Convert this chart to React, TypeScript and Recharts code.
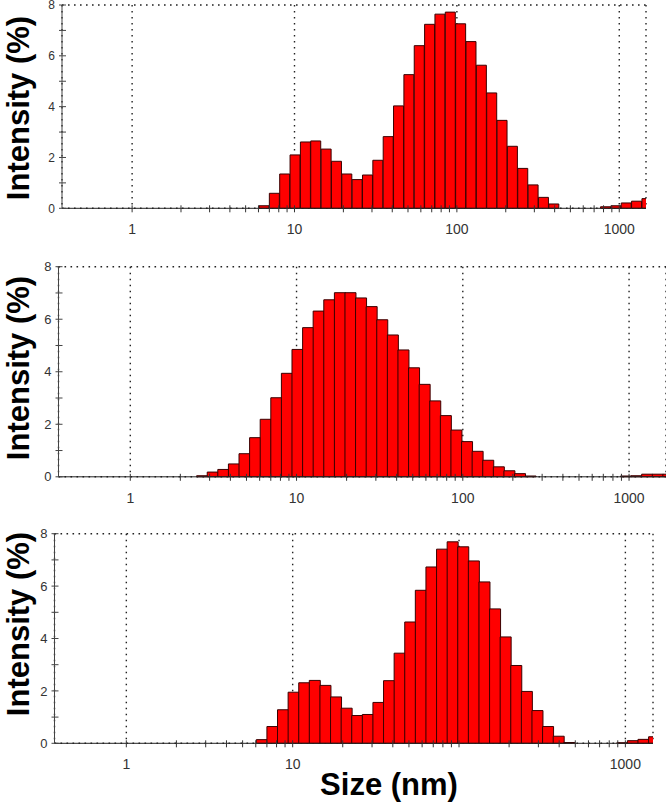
import { Bar, BarChart, CartesianGrid, XAxis, YAxis } from "recharts";

// Malvern size classes (nm), log spaced
const sizes = [
  0.4, 0.4632, 0.5365, 0.6213, 0.7195, 0.8332, 0.9649, 1.117, 1.294, 1.499,
  1.736, 2.01, 2.328, 2.696, 3.122, 3.615, 4.187, 4.849, 5.615, 6.503,
  7.531, 8.721, 10.1, 11.7, 13.54, 15.69, 18.17, 21.04, 24.36, 28.21,
  32.67, 37.84, 43.82, 50.75, 58.77, 68.06, 78.82, 91.28, 105.7, 122.4,
  141.8, 164.2, 190.1, 220.2, 255.0, 295.3, 342.0, 396.1, 458.7, 531.2,
  615.1, 712.4, 825.0, 955.4, 1106, 1281, 1484, 1718,
];

// intensity (%) per size class
const intensityTop = [
  0, 0, 0, 0, 0, 0, 0, 0, 0, 0,
  0, 0, 0, 0, 0, 0, 0, 0, 0, 0.1,
  0.59, 1.35, 2.1, 2.61, 2.65, 2.33, 1.85, 1.35, 1.13, 1.31,
  1.89, 2.82, 4.03, 5.26, 6.4, 7.24, 7.64, 7.72, 7.26, 6.56,
  5.63, 4.54, 3.46, 2.44, 1.57, 0.92, 0.43, 0.17, 0, 0,
  0, 0, 0.06, 0.1, 0.21, 0.28, 0.38, 0.45,
];

const intensityMiddle = [
  0, 0, 0, 0, 0, 0, 0, 0, 0, 0,
  0, 0, 0, 0.04, 0.18, 0.28, 0.49, 0.88, 1.49, 2.19,
  3.01, 3.94, 4.85, 5.68, 6.31, 6.74, 7.01, 7.01, 6.81, 6.48,
  5.98, 5.4, 4.83, 4.15, 3.52, 2.89, 2.33, 1.78, 1.34, 0.97,
  0.63, 0.38, 0.23, 0.12, 0.03, 0, 0, 0, 0, 0,
  0, 0, 0, 0.03, 0.04, 0.1, 0.1, 0.1,
];

const intensityBottom = [
  0, 0, 0, 0, 0, 0, 0, 0, 0, 0,
  0, 0, 0, 0, 0, 0, 0, 0, 0, 0.14,
  0.64, 1.28, 1.95, 2.31, 2.4, 2.21, 1.77, 1.34, 1.06, 1.1,
  1.56, 2.39, 3.44, 4.63, 5.84, 6.73, 7.41, 7.69, 7.5, 6.96,
  6.16, 5.13, 4.06, 2.97, 1.98, 1.25, 0.64, 0.27, 0.03, 0,
  0, 0, 0, 0.02, 0.1, 0.15, 0.25, 0.3,
];

const decades = [1, 10, 100, 1000];
const xTicks = [
  1, 2, 3, 4, 5, 6, 7, 8, 9,
  10, 20, 30, 40, 50, 60, 70, 80, 90,
  100, 200, 300, 400, 500, 600, 700, 800, 900,
  1000,
];
const yTicks = [0, 1, 2, 3, 4, 5, 6, 7, 8];
const yGridTicks = [0, 2, 4, 6, 8];

const FONT = "'Liberation Sans', Arial, sans-serif";

function XTick(props: any) {
  const { x, y, payload, labelSize, labels } = props;
  const v = payload.value;
  return (
    <g>
      <line x1={x} x2={x} y1={y - 3} y2={y + 4} stroke="#333" />
      {labels.includes(v) && (
        <text x={x} y={y + 26} textAnchor="middle" fontSize={labelSize} fill="#333" fontFamily={FONT}>
          {v}
        </text>
      )}
    </g>
  );
}

function YTick(props: any) {
  const { x, y, payload, labelSize } = props;
  const v = payload.value;
  return (
    <g>
      <line x1={x - 3} x2={x + 4} y1={y} y2={y} stroke="#444" />
      {v % 2 === 0 && (
        <text x={x - 7} y={y} dy="0.36em" textAnchor="end" fontSize={labelSize} fill="#333" fontFamily={FONT}>
          {v}
        </text>
      )}
    </g>
  );
}

function Title(props: any) {
  const { tx, ty, text, vertical } = props;
  return (
    <text
      x={tx}
      y={ty}
      textAnchor="middle"
      fontSize={31}
      fontWeight="bold"
      fill="#000"
      fontFamily={FONT}
      transform={vertical ? `rotate(-90, ${tx}, ${ty})` : undefined}
    >
      {text}
    </text>
  );
}

type PanelProps = {
  values: number[];
  top: number;
  height: number;
  plotLeft: number;
  plotRight: number;
  plotTop: number;
  plotBottom: number;
  xMax: number;
  titleY: number;
  tickSize: number;
  xLabels: number[];
  showSize?: boolean;
};

function Panel({ values, top, height, plotLeft, plotRight, plotTop, plotBottom, xMax, titleY, tickSize, xLabels, showSize }: PanelProps) {
  const data = sizes.map((s, i) => ({ size: s, intensity: values[i] }));
  const margin = {
    top: plotTop - top,
    right: 666 - plotRight,
    left: 0,
    bottom: height - (plotBottom - top) - 30,
  };
  const xDomain = [0.37, xMax];
  return (
    <div style={{ position: "absolute", left: 0, top }}>
      <BarChart width={666} height={height} data={data} margin={margin} barCategoryGap={0} barGap={0}>
        <XAxis xAxisId="grid" dataKey="size" type="number" scale="log" domain={xDomain} allowDataOverflow ticks={decades} hide />
        <YAxis yAxisId="grid" type="number" domain={[0, 8]} ticks={yGridTicks} hide />
        <CartesianGrid xAxisId="grid" yAxisId="grid" stroke="#222" strokeDasharray="1.6 4.4" strokeWidth={1.4} />
        <XAxis
          dataKey="size"
          type="number"
          scale="log"
          domain={xDomain}
          allowDataOverflow
          ticks={xTicks}
          interval={0}
          tickSize={0}
          tickMargin={0}
          tickLine={false}
          axisLine={{ stroke: "#222" }}
          height={30}
          tick={<XTick labelSize={14} labels={xLabels} />}
          label={showSize ? <Title tx={389} ty={285} text="Size (nm)" /> : undefined}
        />
        <YAxis
          type="number"
          domain={[0, 8]}
          ticks={yTicks}
          interval={0}
          width={plotLeft}
          tickSize={0}
          tickMargin={0}
          tickLine={false}
          axisLine={{ stroke: "#444" }}
          tick={<YTick labelSize={tickSize} />}
          label={<Title tx={29} ty={titleY} text="Intensity (%)" vertical />}
        />
        <Bar dataKey="intensity" fill="#ff0000" stroke="#3a0000" strokeWidth={1} isAnimationActive={false} />
      </BarChart>
    </div>
  );
}

export default function App() {
  return (
    <div style={{ position: "absolute", left: 0, top: 0, width: 666, height: 804, background: "#fff", fontFamily: FONT }}>
      <Panel values={intensityTop} top={0} height={240} plotLeft={62} plotRight={646} plotTop={5} plotBottom={208.3} xMax={1461} titleY={108} tickSize={12} xLabels={decades} />
      <Panel values={intensityMiddle} top={250} height={280} plotLeft={58.5} plotRight={666} plotTop={266.7} plotBottom={476.8} xMax={1668} titleY={118} tickSize={13} xLabels={decades} />
      <Panel values={intensityBottom} top={510} height={294} plotLeft={54.5} plotRight={653} plotTop={533.7} plotBottom={743.3} xMax={1466} titleY={114} tickSize={13} xLabels={[1, 10, 1000]} showSize />
    </div>
  );
}
